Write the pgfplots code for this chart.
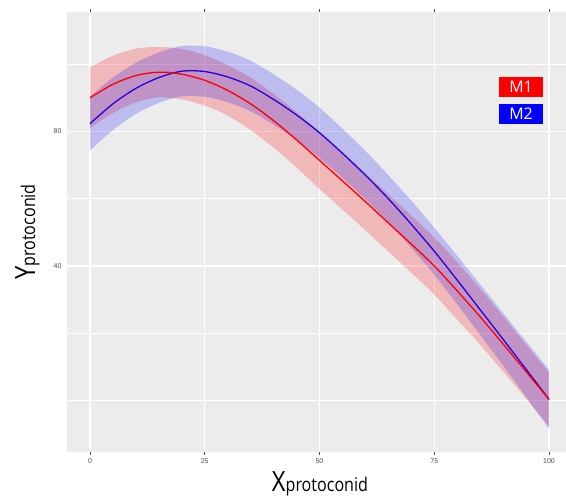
\documentclass[border=0pt]{standalone}
\usepackage{pgfplots}
\pgfplotsset{compat=1.18}
\usepackage{pgfplotstable}
\usepgfplotslibrary{fillbetween}
\usepackage{fontspec}
\setmainfont{Liberation Sans}
\newfontfamily\titlefont[FakeStretch=0.85]{Open Sans}
\newfontfamily\legfont{Open Sans}
\definecolor{bg}{RGB}{236,236,236}
\definecolor{tickgray}{RGB}{77,77,77}

\pgfplotstableread{
x   y    lo    hi
0   90.0 81.0  99.0
5   94.0 85.5  102.5
10  96.6 88.6  104.6
15  97.6 90.1  105.1
20  97.0 89.5  104.5
25  95.2 87.7  102.7
30  92.2 84.7  99.7
35  88.2 80.4  96.0
40  83.2 75.2  91.2
45  77.5 69.3  85.7
50  71.4 62.9  79.9
55  65.3 56.8  73.8
60  59.1 50.6  67.6
65  52.8 44.3  61.3
70  46.5 38.0  55.0
75  40.0 31.5  48.5
80  32.6 24.1  41.1
85  24.9 16.6  33.2
90  16.8 8.6   25.0
95  8.6  0.6   16.6
100 0.3  -7.7  8.3
}\redtab

\pgfplotstableread{
x   y    lo    hi
0   82.3 74.3  90.3
5   88.2 80.4  96.0
10  92.8 85.2  100.4
15  96.0 88.5  103.5
20  97.9 90.4  105.4
25  97.8 90.3  105.3
30  96.2 88.7  103.7
35  93.5 86.0  101.0
40  89.5 82.0  97.0
45  84.9 77.4  92.4
50  79.6 72.1  87.1
55  73.5 66.2  80.8
60  67.0 59.8  74.2
65  60.0 53.0  67.0
70  52.4 45.4  59.4
75  44.4 37.4  51.4
80  35.8 28.6  43.0
85  27.0 19.5  34.5
90  18.2 10.4  26.0
95  9.3  1.1   17.5
100 0.4  -8.4  9.2
}\bluetab

\begin{document}
\begin{tikzpicture}
\begin{axis}[
  at={(0,0)}, anchor=south west,
  scale only axis, width=499bp, height=440bp,
  xmin=-5, xmax=103.7, ymin=-15.3, ymax=115.5,
  axis background/.style={fill=bg},
  axis line style={draw=none},
  grid=major, grid style={white, line width=1.1bp},
  xtick={0,25,50,75,100},
  ytick={0,20,40,60,80,100},
  yticklabels={,,40,,80,},
  tick label style={font=\fontsize{7}{7}\selectfont, text=tickgray},
  /pgf/number format/assume math mode=true,
  tick align=outside, major tick length=3bp,
  x tick style={draw=tickgray, line width=0.5bp},
  y tick style={draw=none},
  xticklabel style={yshift=0bp},
  yticklabel style={xshift=1bp},
]
\addplot[name path=rU, draw=none, smooth] table[x=x,y=hi]{\redtab};
\addplot[name path=rL, draw=none, smooth] table[x=x,y=lo]{\redtab};
\addplot[name path=bU, draw=none, smooth] table[x=x,y=hi]{\bluetab};
\addplot[name path=bL, draw=none, smooth] table[x=x,y=lo]{\bluetab};
\addplot[fill=red, fill opacity=0.22, draw=none] fill between[of=rU and rL];
\addplot[fill=blue, fill opacity=0.2, draw=none] fill between[of=bU and bL];
\addplot[color={rgb,255:red,40;green,0;blue,220}, line width=1.3bp, smooth] table[x=x,y=y]{\bluetab};
\addplot[color=red, line width=1.3bp, smooth] table[x=x,y=y]{\redtab};
\node[fill=red, text=white, minimum width=44bp, minimum height=20bp, inner sep=0pt, font=\legfont\fontsize{16}{16}\selectfont] at (axis cs:93.9,93.2) {M1};
\node[fill=blue, text=white, minimum width=44bp, minimum height=20bp, inner sep=0pt, font=\legfont\fontsize{16}{16}\selectfont] at (axis cs:93.9,85.2) {M2};
\end{axis}
\node[anchor=base, inner sep=0pt] at (253bp,-39bp) {\titlefont\fontsize{28}{28}\selectfont X{\fontsize{19}{19}\selectfont protoconid}};
\node[anchor=base, inner sep=0pt, rotate=90] at (-32bp,220bp) {\titlefont\fontsize{28}{28}\selectfont Y{\fontsize{19}{19}\selectfont protoconid}};
\pgfresetboundingbox
\path (-67bp,-45bp) rectangle (499bp,452bp);
\end{tikzpicture}
\end{document}
